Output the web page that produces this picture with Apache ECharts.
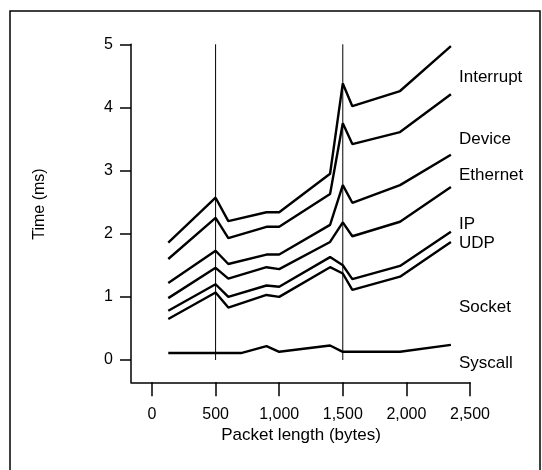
<!DOCTYPE html>
<html><head><meta charset="utf-8">
<script src="https://cdn.jsdelivr.net/npm/echarts@6/dist/echarts.min.js"></script>
<style>html,body{margin:0;padding:0;background:#fff}#c{width:542px;height:470px}</style>
</head><body><div id="c"></div>
<script>
const xBytes = [128, 500, 600, 900, 1000, 1400, 1500, 1575, 1950, 2350];
const interrupt = [1.86, 2.57, 2.20, 2.34, 2.34, 2.95, 4.38, 4.02, 4.26, 4.97];
const device    = [1.60, 2.25, 1.93, 2.11, 2.11, 2.63, 3.75, 3.42, 3.61, 4.21];
const ethernet  = [1.22, 1.73, 1.52, 1.67, 1.67, 2.14, 2.77, 2.49, 2.77, 3.25];
const ip        = [0.98, 1.46, 1.29, 1.47, 1.44, 1.87, 2.18, 1.96, 2.19, 2.74];
const udp       = [0.78, 1.20, 1.00, 1.18, 1.16, 1.63, 1.50, 1.28, 1.49, 2.03];
const socket    = [0.65, 1.07, 0.83, 1.03, 1.00, 1.47, 1.37, 1.11, 1.32, 1.87];
const syscallX  = [128, 700, 900, 1000, 1400, 1500, 1950, 2350];
const syscall   = [0.11, 0.11, 0.22, 0.13, 0.23, 0.13, 0.13, 0.24];
const markX = [500, 1500];
const xTicks = [0, 500, 1000, 1500, 2000, 2500];
const yTicks = [0, 1, 2, 3, 4, 5];
const seriesNames = ['Interrupt', 'Device', 'Ethernet', 'IP', 'UDP', 'Socket'];
const seriesVals = [interrupt, device, ethernet, ip, udp, socket];

const FONT = 'Liberation Sans';
const chart = echarts.init(document.getElementById('c'));
const lineSeries = seriesVals.map((v, i) => ({
  name: seriesNames[i], type: 'line', showSymbol: false, silent: true,
  data: xBytes.map((x, j) => [x, v[j]]),
  lineStyle: {color: '#000', width: 2.4}
}));
lineSeries.push({
  name: 'Syscall', type: 'line', showSymbol: false, silent: true,
  data: syscallX.map((x, j) => [x, syscall[j]]),
  lineStyle: {color: '#000', width: 2.4}
});
markX.forEach(x => lineSeries.push({
  type: 'line', showSymbol: false, silent: true,
  data: [[x, 0], [x, 5]],
  lineStyle: {color: '#000', width: 1}
}));

const labelPos = [
  ['Interrupt', 77], ['Device', 139], ['Ethernet', 175], ['IP', 224],
  ['UDP', 243], ['Socket', 307], ['Syscall', 363]
];

chart.setOption({
  animation: false,
  backgroundColor: '#fff',
  grid: {left: 131, top: 44.3, width: 339, height: 338},
  xAxis: {
    type: 'value', min: -165, max: 2500,
    axisLine: {onZero: false, lineStyle: {color: '#000', width: 1.5}},
    axisTick: {show: true, length: 14, customValues: xTicks, lineStyle: {color: '#000', width: 1.5}},
    axisLabel: {customValues: xTicks, margin: 24, color: '#000', fontFamily: FONT, fontSize: 16,
      formatter: v => v.toLocaleString('en-US')},
    splitLine: {show: false}
  },
  yAxis: {
    type: 'value', min: -0.353, max: 5,
    axisLine: {show: true, onZero: false, lineStyle: {color: '#000', width: 1.5}},
    axisTick: {show: true, length: 11, customValues: yTicks, lineStyle: {color: '#000', width: 1.5}},
    axisLabel: {customValues: yTicks, margin: 18, color: '#000', fontFamily: FONT, fontSize: 16},
    splitLine: {show: false}
  },
  series: lineSeries,
  graphic: [
    {type: 'polyline', shape: {points: [[10, 475], [10, 11], [540, 11], [540, 475]]},
     style: {stroke: '#000', lineWidth: 1.5, fill: null}},
    {type: 'text', x: 40, y: 204, rotation: Math.PI / 2,
     style: {text: 'Time (ms)', fontFamily: FONT, fontSize: 16, fill: '#000', align: 'center', verticalAlign: 'middle'}},
    {type: 'text', x: 301, y: 435,
     style: {text: 'Packet length (bytes)', fontFamily: FONT, fontSize: 17, fill: '#000', align: 'center', verticalAlign: 'middle'}}
  ].concat(labelPos.map(([t, y]) => ({
    type: 'text', x: 459, y: y,
    style: {text: t, fontFamily: FONT, fontSize: 17, fill: '#000', align: 'left', verticalAlign: 'middle'}
  })))
});
</script></body></html>
